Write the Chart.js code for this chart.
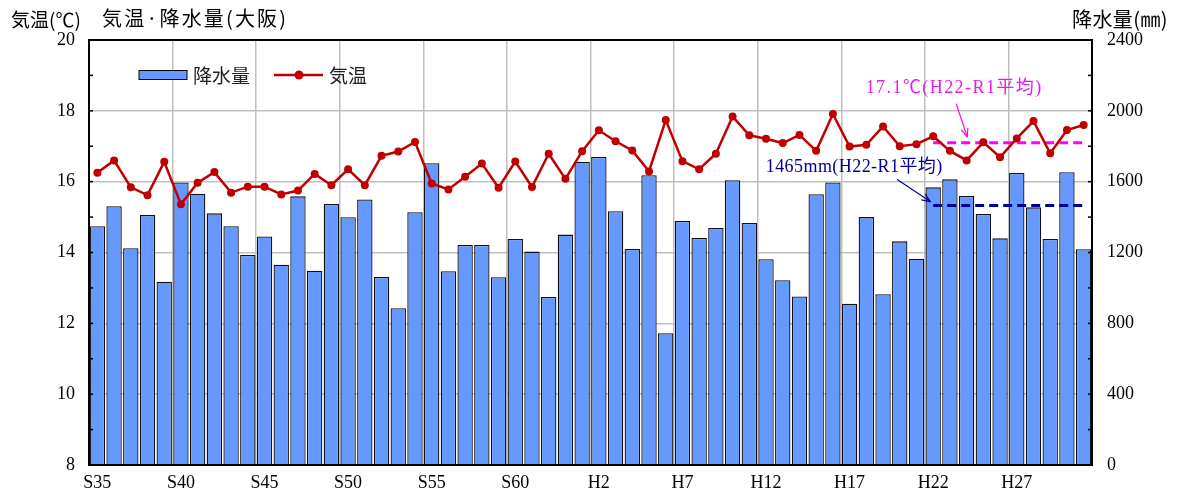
<!DOCTYPE html>
<html><head><meta charset="utf-8">
<script src="https://cdn.jsdelivr.net/npm/chart.js@4/dist/chart.umd.min.js"></script>
<style>html,body{margin:0;padding:0;background:#fff;overflow:hidden}#wrap{width:1177px;height:496px;position:relative}</style>
</head><body><div id="wrap"><canvas id="c" width="1177" height="496"></canvas></div>
<script>
const categories = ['S35','S36','S37','S38','S39','S40','S41','S42','S43','S44','S45','S46','S47','S48','S49','S50','S51','S52','S53','S54','S55','S56','S57','S58','S59','S60','S61','S62','S63',
  'H1','H2','H3','H4','H5','H6','H7','H8','H9','H10','H11','H12','H13','H14','H15','H16','H17','H18','H19','H20','H21','H22','H23','H24','H25','H26','H27','H28','H29','H30','R1'];
const tickLabels = ['S35','S40','S45','S50','S55','S60','H2','H7','H12','H17','H22','H27'];
const precipitation = [1348,1461,1224,1412,1035,1596,1532,1421,1348,1186,
  1291,1131,1517,1097,1474,1399,1500,1062,885,1427,
  1704,1094,1242,1242,1060,1276,1205,949,1301,1713,
  1739,1433,1220,1636,744,1378,1282,1338,1608,1367,
  1162,1043,952,1529,1596,911,1400,964,1263,1165,
  1568,1613,1519,1417,1280,1649,1455,1276,1653,1218];
const temperature = [16.25,16.60,15.84,15.62,16.56,15.36,15.97,16.27,15.69,15.86,
  15.86,15.64,15.75,16.22,15.90,16.35,15.90,16.73,16.85,17.12,
  15.95,15.78,16.14,16.51,15.83,16.57,15.85,16.79,16.08,16.86,
  17.45,17.14,16.88,16.29,17.74,16.58,16.35,16.79,17.84,17.31,
  17.21,17.09,17.32,16.87,17.91,16.99,17.04,17.56,17.00,17.06,
  17.28,16.87,16.60,17.11,16.69,17.22,17.71,16.80,17.46,17.60];
const avgStartLabel = 'H22';
const avgTemp = 17.1;
const avgPrecip = 1465;
const avgTempText = '17.1℃(H22-R1平均)';
const avgPrecipText = '1465mm(H22-R1平均)';

const avgStart = categories.indexOf(avgStartLabel);
const avgTempData = categories.map((c,i)=> i>=avgStart ? avgTemp : null);
const avgPrecipData = categories.map((c,i)=> i>=avgStart ? avgPrecip : null);

const BAR = '#6699FF', RED = '#C00000', GRID = '#BFBFBF';
const SERIF = "'Liberation Serif','Noto Sans CJK JP',serif";
const JP = "'Noto Sans CJK JP',sans-serif";

function arrow(ctx, x1, y1, x2, y2, color){
  ctx.save();
  ctx.strokeStyle = color; ctx.lineWidth = 1.2;
  ctx.beginPath(); ctx.moveTo(x1,y1); ctx.lineTo(x2,y2); ctx.stroke();
  const a = Math.atan2(y2-y1, x2-x1), L = 9, s = 0.4;
  ctx.beginPath();
  ctx.moveTo(x2 - L*Math.cos(a-s), y2 - L*Math.sin(a-s));
  ctx.lineTo(x2,y2);
  ctx.lineTo(x2 - L*Math.cos(a+s), y2 - L*Math.sin(a+s));
  ctx.stroke();
  ctx.restore();
}
function fitText(ctx, txt, cx, cy, width){
  ctx.letterSpacing = '0px';
  const w = ctx.measureText(txt).width;
  const sp = Math.max(0, (width - w) / txt.length);
  ctx.letterSpacing = sp.toFixed(2) + 'px';
  ctx.textAlign = 'left';
  ctx.fillText(txt, cx - width/2, cy);
  ctx.letterSpacing = '0px';
}

const deco = {
  id:'deco',
  afterDraw(chart){
    const ctx = chart.ctx, ca = chart.chartArea;
    const xs = chart.scales.x, ys = chart.scales.y, yr = chart.scales.y1;
    ctx.save();
    // frame
    ctx.strokeStyle = '#000'; ctx.lineWidth = 2;
    ctx.strokeRect(ca.left, ca.top, ca.right-ca.left, ca.bottom-ca.top);
    // inward minor ticks
    ctx.lineWidth = 1.5;
    ys.ticks.forEach(t=>{ const p = ys.getPixelForValue(t.value); ctx.beginPath(); ctx.moveTo(ca.left, p); ctx.lineTo(ca.left+4, p); ctx.stroke(); });
    yr.ticks.forEach(t=>{ const p = yr.getPixelForValue(t.value); ctx.beginPath(); ctx.moveTo(ca.right, p); ctx.lineTo(ca.right-4, p); ctx.stroke(); });
    // titles
    ctx.fillStyle = '#000'; ctx.textBaseline = 'middle';
    ctx.font = "19px " + JP; ctx.textAlign = 'left';
    ctx.fillText('気温(℃)', 11, 20);
    ctx.font = "20px " + JP;
    fitText(ctx, '気温·降水量(大阪)', 102 + 93, 18, 186);
    ctx.font = "20px " + JP;
    fitText(ctx, '降水量(㎜)', 1072 + 48, 19, 96);
    // legend
    const lx = ca.left + 50, ly = ca.top + 35;
    ctx.fillStyle = BAR; ctx.fillRect(lx, ly-4.5, 48, 9);
    ctx.strokeStyle = '#000'; ctx.lineWidth = 1; ctx.strokeRect(lx, ly-4.5, 48, 9);
    ctx.fillStyle = '#222'; ctx.textAlign = 'left'; ctx.font = "19px " + JP;
    ctx.fillText(chart.data.datasets[1].label, lx+54, ly+1);
    ctx.strokeStyle = RED; ctx.lineWidth = 2.5;
    ctx.beginPath(); ctx.moveTo(lx+135, ly); ctx.lineTo(lx+184, ly); ctx.stroke();
    ctx.fillStyle = RED; ctx.beginPath(); ctx.arc(lx+160, ly, 4.5, 0, Math.PI*2); ctx.fill();
    ctx.fillStyle = '#222';
    ctx.fillText(chart.data.datasets[0].label, lx+190, ly+1);
    // annotations
    const x0 = xs.getPixelForValue(avgStart);
    const yT = ys.getPixelForValue(avgTemp), yP = yr.getPixelForValue(avgPrecip);
    ctx.font = "18px " + SERIF;
    ctx.fillStyle = '#E81CE8';
    fitText(ctx, avgTempText, x0+21, yT-54, 177);
    arrow(ctx, x0+23, yT-39, x0+34, yT-6, '#FF00FF');
    ctx.fillStyle = '#00008B';
    fitText(ctx, avgPrecipText, x0-79, yP-38, 177);
    arrow(ctx, x0-36, yP-26, x0-3, yP-4, '#00008B');
    ctx.restore();
  }
};

Chart.defaults.font.family = SERIF;
new Chart(document.getElementById('c'), {
  data:{
    labels: categories,
    datasets:[
      {type:'line', label:'気温', data: temperature, yAxisID:'y', order:0,
       borderColor: RED, borderWidth:2.5, pointRadius:4, pointBackgroundColor:RED, pointBorderColor:RED, pointBorderWidth:0, tension:0},
      {type:'bar', label:'降水量', data: precipitation, yAxisID:'y1', order:3,
       backgroundColor: BAR, borderColor:'#111', borderWidth:1.3, barPercentage:0.92, categoryPercentage:1.0},
      {type:'line', label:'avgT', data: avgTempData, yAxisID:'y', order:1,
       borderColor:'#FF00FF', borderWidth:3, borderDash:[9,5], pointRadius:0},
      {type:'line', label:'avgP', data: avgPrecipData, yAxisID:'y1', order:2,
       borderColor:'#000099', borderWidth:3, borderDash:[9,5], pointRadius:0}
    ]
  },
  options:{
    responsive:false, animation:false, devicePixelRatio:1,
    layout:{padding:{top:40,left:0,right:0,bottom:0}},
    plugins:{legend:{display:false}, tooltip:{enabled:false}},
    scales:{
      x:{type:'category', offset:true,
        grid:{offset:true, drawTicks:false, lineWidth:1.5,
          color: c => (c.index>0 && c.index%5===0) ? GRID : 'rgba(0,0,0,0)'},
        border:{display:false},
        ticks:{autoSkip:false, maxRotation:0, minRotation:0, padding:7, color:'#000', font:{size:18, family:SERIF},
          callback:(v,i)=> tickLabels.includes(categories[i]) ? categories[i] : ''},
        afterFit: s => { s.height = 31; }
      },
      y:{position:'left', min:8, max:20,
        ticks:{stepSize:1, padding:14, color:'#000', font:{size:18, family:SERIF},
          callback: v => v%2===0 ? v : ''},
        grid:{drawTicks:false, lineWidth:1.5, color: c => (c.tick && c.tick.value%2===0) ? GRID : 'rgba(0,0,0,0)'},
        border:{display:false},
        afterFit: s => { s.width = 89; }
      },
      y1:{position:'right', min:0, max:2400,
        ticks:{stepSize:200, padding:15, color:'#000', font:{size:18, family:SERIF},
          callback: v => v%400===0 ? v : ''},
        grid:{drawOnChartArea:false, drawTicks:false},
        border:{display:false},
        afterFit: s => { s.width = 85; }
      }
    }
  },
  plugins:[deco]
});
</script></body></html>
